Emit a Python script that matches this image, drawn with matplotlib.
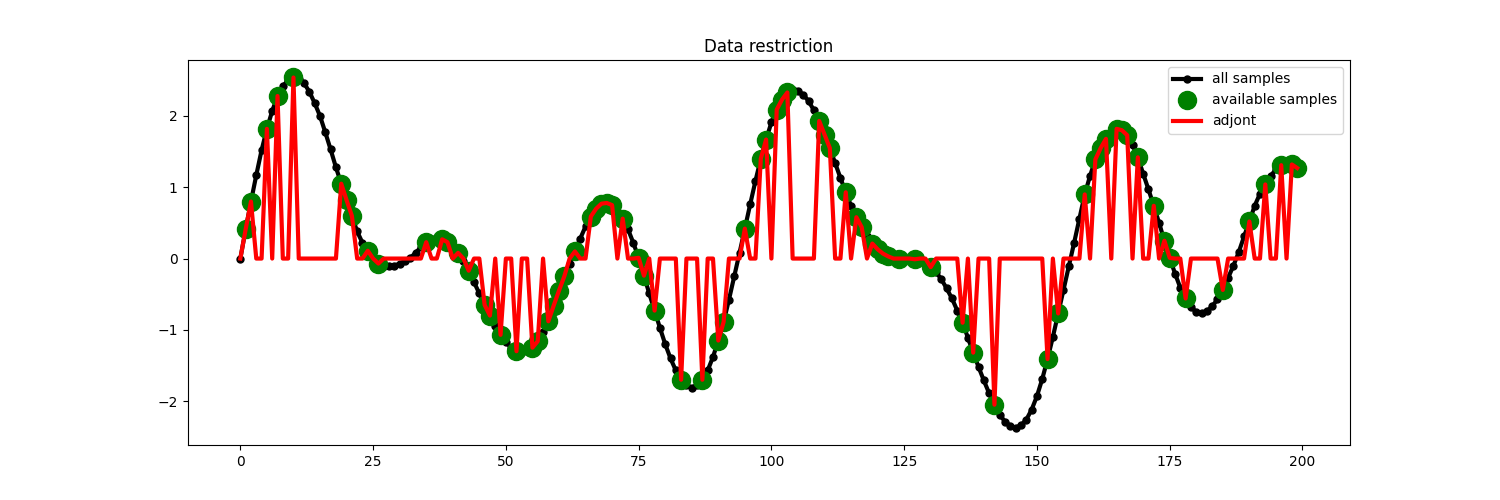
import numpy as np
import matplotlib
matplotlib.use("Agg")
import matplotlib.pyplot as plt

# all 200 samples
all_samples = [
    0.00, 0.41, 0.80, 1.17, 1.52, 1.82, 2.07, 2.28, 2.42, 2.50,
    2.54, 2.52, 2.46, 2.34, 2.18, 2.00, 1.77, 1.53, 1.28, 1.05,
    0.82, 0.60, 0.38, 0.22, 0.11, 0.02, -0.07, -0.10, -0.11, -0.10,
    -0.07, -0.04, 0.01, 0.08, 0.16, 0.23, 0.27, 0.28, 0.27, 0.23,
    0.16, 0.08, -0.04, -0.17, -0.33, -0.49, -0.65, -0.80, -0.95, -1.07,
    -1.17, -1.25, -1.30, -1.31, -1.29, -1.25, -1.16, -1.03, -0.88, -0.66,
    -0.45, -0.25, -0.07, 0.10, 0.28, 0.45, 0.59, 0.70, 0.77, 0.78,
    0.75, 0.67, 0.56, 0.41, 0.22, 0.01, -0.24, -0.49, -0.73, -0.97,
    -1.20, -1.40, -1.57, -1.70, -1.78, -1.81, -1.78, -1.70, -1.57, -1.38,
    -1.15, -0.89, -0.58, -0.25, 0.08, 0.42, 0.76, 1.09, 1.40, 1.67,
    1.91, 2.09, 2.23, 2.33, 2.36, 2.35, 2.30, 2.21, 2.08, 1.93,
    1.74, 1.55, 1.34, 1.13, 0.93, 0.74, 0.58, 0.44, 0.31, 0.21,
    0.13, 0.07, 0.03, 0.01, 0.00, -0.01, -0.01, -0.01, -0.03, -0.06,
    -0.12, -0.19, -0.29, -0.42, -0.56, -0.73, -0.90, -1.11, -1.32, -1.52,
    -1.71, -1.89, -2.05, -2.19, -2.29, -2.35, -2.37, -2.34, -2.26, -2.12,
    -1.93, -1.69, -1.41, -1.10, -0.77, -0.44, -0.11, 0.22, 0.56, 0.90,
    1.16, 1.39, 1.55, 1.68, 1.77, 1.82, 1.80, 1.73, 1.60, 1.42,
    1.19, 0.97, 0.74, 0.50, 0.25, 0.01, -0.21, -0.41, -0.56, -0.68,
    -0.75, -0.77, -0.74, -0.67, -0.57, -0.44, -0.27, -0.10, 0.09, 0.31,
    0.52, 0.74, 0.91, 1.04, 1.16, 1.25, 1.31, 1.33, 1.32, 1.27,
]

# indices of the samples that are available
available_idx = [
    1, 2, 5, 7, 10, 19, 20, 21, 24, 26, 35, 38, 39, 41, 43, 46, 47, 49,
    52, 55, 56, 58, 59, 60, 61, 63, 66, 67, 68, 69, 70, 72, 75, 76,
    78, 83, 87, 90, 91, 95, 98, 99, 101, 102, 103, 109, 110, 111, 114,
    116, 117, 119, 120, 121, 122, 124, 127, 130, 136, 138, 142, 152, 154,
    159, 161, 162, 163, 165, 166, 167, 169, 172, 174, 175, 178, 185, 190,
    193, 196, 198, 199,
]


def main():
    y = np.array(all_samples)
    x = np.arange(len(y))
    idx = np.array(available_idx)

    adjoint = np.zeros_like(y)
    adjoint[idx] = y[idx]

    fig, ax = plt.subplots(figsize=(15, 5), dpi=100)
    ax.plot(x, y, "k-", marker="o", markersize=5, linewidth=3, label="all samples")
    ax.plot(idx, y[idx], "o", color="green", markersize=13, label="available samples")
    ax.plot(x, adjoint, "r-", linewidth=3, label="adjont")
    ax.set_title("Data restriction")
    ax.legend(loc="upper right")
    fig.savefig("out.png")


if __name__ == "__main__":
    main()
